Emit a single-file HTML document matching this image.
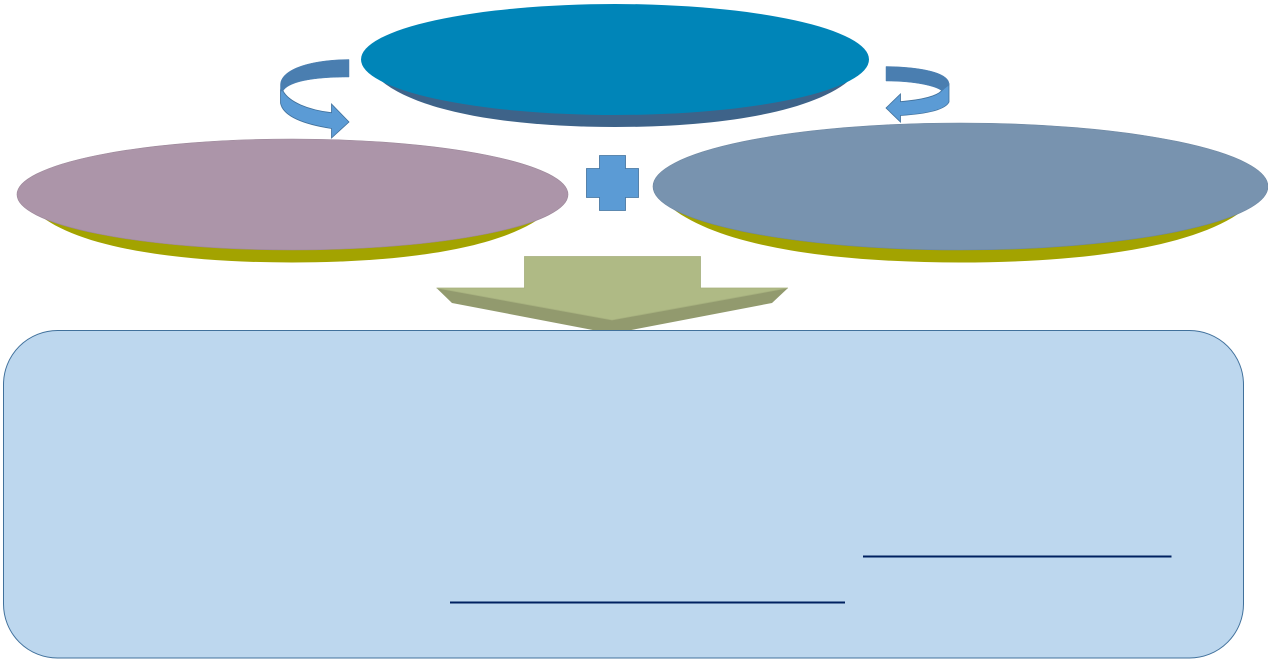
<!DOCTYPE html>
<html>
<head>
<meta charset="utf-8">
<title>Diagram</title>
<style>
html,body{margin:0;padding:0;background:#fff;width:1268px;height:661px;overflow:hidden}
svg{display:block}
</style>
</head>
<body>
<svg width="1268" height="661" viewBox="0 0 1268 661" xmlns="http://www.w3.org/2000/svg">
  <!-- top ellipse -->
  <path d="M378 78 C415 112 510 127 615 127 C720 127 815 112 852 78 Z" fill="#3E6389"/>
  <ellipse cx="615" cy="59.500" rx="254" ry="55.500" fill="#0085B8"/>
  <!-- left ellipse -->
  <path d="M34 210 C72 248 180 262.500 292 262.500 C405 262.500 510 248 550 210 Z" fill="#A3A300"/>
  <ellipse cx="292.500" cy="194.500" rx="275.500" ry="55.500" fill="#AC95A9" stroke="#9C8799" stroke-width="0.600"/>
  <!-- right ellipse -->
  <path d="M668 205 C718 248 840 262.500 960 262.500 C1080 262.500 1205 248 1252 203 Z" fill="#A3A300"/>
  <ellipse cx="960.500" cy="186.500" rx="307.500" ry="63.500" fill="#7893AF" stroke="#6D87A2" stroke-width="0.600"/>
  <!-- left curved arrow -->
  <path d="M280.500 90 L280.500 103 C283 116 303 124 331.500 128.500 L331.500 138 L349 122 L331.500 104 L331.500 112.700 C308 110 289 102 283 91 Z" fill="#5B9BD5" stroke="#41719C" stroke-width="0.800"/>
  <path d="M349 59.500 C308 60 280.500 70 280.500 85 L280.500 91 L283 91 C289 81 315 77 349 77 Z" fill="#4A7EB0" stroke="#4A7EB0" stroke-width="0.500"/>
  <!-- right curved arrow -->
  <path d="M949 84 L949 102 C945 110 925 114 900.500 115.500 L900.500 122 L886 108 L900.500 94 L900.500 101.700 C920 100 936 97 941.700 90.700 Z" fill="#5B9BD5" stroke="#41719C" stroke-width="0.800"/>
  <path d="M886 66.500 C922 67 949 73 949 84 L949 85 L941.700 90.700 C936 86 915 81 886 81 Z" fill="#4A7EB0" stroke="#4A7EB0" stroke-width="0.500"/>
  <!-- cross -->
  <path d="M599.500 155.500 H625.500 V168.500 H638.500 V197.500 H625.500 V210.500 H599.500 V197.500 H586.500 V168.500 H599.500 Z" fill="#5B9BD5" stroke="#41719C" stroke-width="0.800"/>
  <!-- down arrow -->
  <polygon points="436.500,288 452,303 598,331 626,331 772,303 788,288 612,320" fill="#929A6E"/>
  <polygon points="524.500,256.500 700.500,256.500 700.500,288 788,288 612,320 436.500,288 524.500,288" fill="#AFBA85" stroke="#A6B07E" stroke-width="0.800"/>
  <!-- box -->
  <rect x="3.500" y="330.500" width="1240" height="327.500" rx="54" ry="54" fill="#BDD7EE" stroke="#41719C" stroke-width="1"/>
  <!-- underlines -->
  <line x1="863" y1="556.500" x2="1171.500" y2="556.500" stroke="#002060" stroke-width="2"/>
  <line x1="450" y1="602.500" x2="845" y2="602.500" stroke="#002060" stroke-width="2"/>
</svg>
</body>
</html>
